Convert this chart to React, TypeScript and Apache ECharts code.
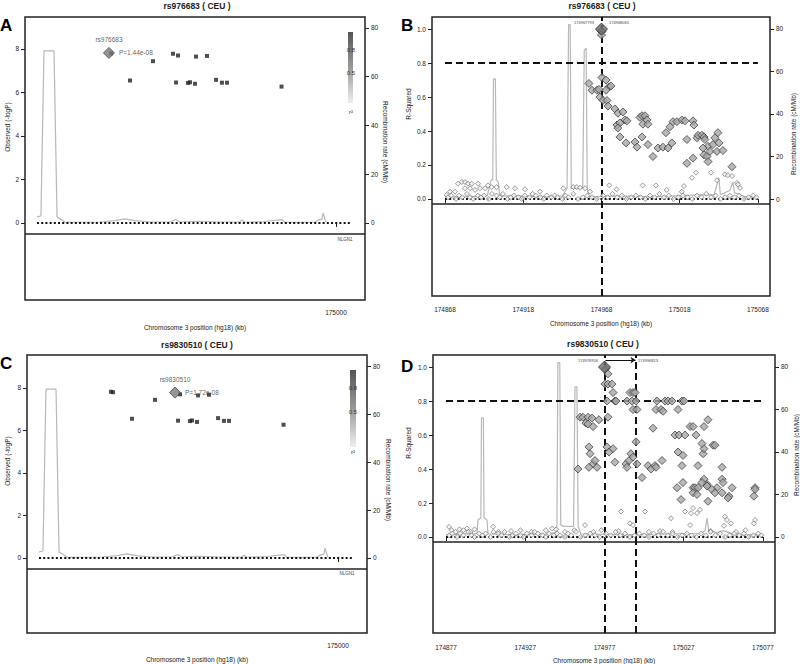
import React, { useEffect, useRef } from "react";
import * as echarts from "echarts";

const FF = "'Liberation Sans', Arial, Helvetica, sans-serif";

// ---------- Panels A / C : association results (position kb, -log10 P) ----------
const assocPos = [174781.0, 174783.0, 174801.3, 174823.5, 174842.8, 174845.7, 174847.6, 174857.2, 174859.2, 174864.0, 174865.0, 174875.6, 174884.3, 174890.0, 174894.9, 174947.5];
const assocLogP = [7.82, 7.8, 6.55, 7.44, 7.78, 6.46, 7.7, 6.44, 6.47, 6.4, 7.65, 7.68, 6.58, 6.45, 6.45, 6.27];
const leadIndexA = 0; // rs976683
const leadIndexC = 4; // rs9830510
const leadNameA = "rs976683";
const leadNameC = "rs9830510";
const leadPA = "P=1.44e-08";
const leadPC = "P=1.72e-08";

// recombination rate (cM/Mb) on the A / C axis
const recAPos = [174711.6, 174714.5, 174715.4, 174718.3, 174728.0, 174730.9, 174735.7, 174738.6, 174772.4, 174786.8, 174796.5, 174806.1, 174820.6, 174839.9, 174845.7, 174849.5, 174864.0, 174883.3, 174907.4, 174909.3, 174912.2, 174931.5, 174947.9, 174950.8, 174979.8, 174982.7, 174986.5, 174987.5, 174989.4, 174990.4];
const recARate = [2.5, 2.8, 3.0, 70.6, 70.6, 2.5, 1.2, 0.3, 0.4, 1.0, 1.7, 1.0, 0.4, 0.5, 1.4, 0.4, 0.7, 0.5, 0.4, 1.2, 0.3, 0.6, 1.4, 0.3, 0.3, 1.2, 1.6, 4.1, 1.4, 0.3];
const snpSpanA = [174711.6, 175013.5];
const ticksAC = [175000];

// ---------- Panel B : LD (position kb, r-squared) ----------
const ticksB = [174868, 174918, 174968, 175018, 175068];
const leadB: number[][] = [[174968.0, 1.0]];
const bHigh: number[][] = [
  [174967.7, 0.99], [174968.3, 0.985], [174968.0, 0.965],
  [174960.0, 0.68], [174961.9, 0.64], [174965.1, 0.64], [174966.4, 0.645], [174968.3, 0.715], [174970.9, 0.7], [174967.0, 0.6], [174969.0, 0.58], [174971.5, 0.58], [174972.8, 0.66], [174974.1, 0.665], [174972.2, 0.547], [174970.9, 0.64],
  [174976.6, 0.53], [174978.5, 0.505], [174981.7, 0.512], [174977.9, 0.435], [174979.8, 0.447], [174983.0, 0.465], [174984.3, 0.46], [174978.5, 0.418], [174979.8, 0.365], [174983.7, 0.33], [174989.4, 0.335], [174990.7, 0.305],
  [174992.6, 0.48], [174993.9, 0.49], [174995.8, 0.49], [174997.1, 0.465], [174994.5, 0.44], [174997.7, 0.44], [174993.9, 0.365], [174997.7, 0.32], [175000.9, 0.25], [175004.1, 0.3], [175007.3, 0.305], [175010.5, 0.3], [175013.0, 0.33],
  [175009.2, 0.39], [175011.8, 0.425], [175013.7, 0.455], [175016.2, 0.455], [175019.4, 0.465], [175021.4, 0.46], [175022.6, 0.35], [175026.5, 0.46], [175027.1, 0.435], [175022.6, 0.21], [175026.5, 0.24],
  [175029.0, 0.36], [175029.7, 0.375], [175032.2, 0.375], [175033.5, 0.365], [175034.1, 0.35], [175036.1, 0.31], [175032.9, 0.3], [175033.5, 0.26], [175035.4, 0.25], [175036.1, 0.22], [175037.3, 0.28], [175039.2, 0.32], [175040.5, 0.36], [175042.4, 0.39], [175043.1, 0.33], [175041.8, 0.28], [175045.6, 0.285], [175051.4, 0.19],
];
const bLow: number[][] = [
  [175025.8, 0.125], [175028.4, 0.155], [175038.0, 0.155], [175041.8, 0.11], [175046.9, 0.145], [175048.8, 0.14], [175051.4, 0.135], [175054.6, 0.095], [175055.2, 0.085], [175056.5, 0.065],
  [174869.1, 0.024], [174871.2, 0.043], [174874.4, 0.043], [174876.3, 0.09], [174878.7, 0.1], [174880.8, 0.1], [174882.7, 0.09], [174885.1, 0.09], [174880.8, 0.063], [174884.0, 0.063], [174887.2, 0.053], [174889.1, 0.09], [174890.4, 0.063], [174893.6, 0.063], [174895.5, 0.08], [174897.8, 0.07], [174901.0, 0.07], [174907.4, 0.07], [174912.7, 0.063], [174919.1, 0.057], [174928.7, 0.043], [174943.6, 0.063], [174950.0, 0.07], [174952.2, 0.07], [174954.3, 0.066], [174957.5, 0.063], [174960.7, 0.043], [174973.0, 0.08], [174977.7, 0.057], [174994.3, 0.08], [175002.8, 0.08], [175009.7, 0.053], [175019.3, 0.043], [175020.7, 0.076],
  [174870, 0.01], [174872, 0.02], [174875, 0.0], [174877, 0.02], [174879, 0.01], [174882, 0.03], [174884, 0.01], [174886, 0.0], [174889, 0.02], [174891, 0.01], [174893, 0.02], [174896, 0.0], [174898, 0.03], [174901, 0.02], [174903, 0.01], [174905, 0.03], [174908, 0.0], [174910, 0.01], [174912, 0.02], [174915, 0.01], [174917, 0.0], [174919, 0.02], [174922, 0.01], [174924, 0.03], [174926, 0.02], [174929, 0.01], [174931, 0.0], [174933, 0.02], [174936, 0.01], [174938, 0.02], [174940, 0.01], [174943, 0.0], [174945, 0.02], [174947, 0.01], [174950, 0.03], [174953, 0.0], [174956, 0.01], [174959, 0.02], [174962, 0.01], [174965, 0.0], [174969, 0.02], [174972, 0.01], [174975, 0.03], [174978, 0.01], [174981, 0.02], [174984, 0.0], [174987, 0.01], [174990, 0.02], [174993, 0.01], [174996, 0.0], [174999, 0.02], [175002, 0.01], [175005, 0.03], [175008, 0.01], [175011, 0.02], [175014, 0.0], [175017, 0.01], [175020, 0.02], [175023, 0.01], [175026, 0.0], [175029, 0.02], [175032, 0.01], [175035, 0.03], [175038, 0.01], [175041, 0.02], [175044, 0.0], [175047, 0.01], [175050, 0.02], [175053, 0.01], [175056, 0.02], [175059, 0.0], [175062, 0.01], [175065, 0.02], [175067, 0.01],
];
const recBPos = [174868, 174880, 174895, 174897.5, 174898.5, 174899.0, 174900.2, 174900.8, 174902, 174903, 174915, 174930, 174943, 174946, 174947.0, 174948.0, 174948.7, 174956, 174957.0, 174958.2, 174958.9, 174960, 174980, 175000, 175030, 175040, 175043, 175044, 175050, 175052, 175053, 175060, 175068];
const recBRate = [1, 1, 1.5, 9, 9, 56.5, 56.5, 9, 8, 1.5, 1.5, 1, 1.5, 5, 82, 82, 5, 5, 70, 71, 5, 1, 1.5, 1, 2, 2, 10, 2, 4, 8, 3, 1, 1];
const snpSpanB = [174868, 175068];
const markB = [174968];
const markLabelsB = ["174967793", "174968065"];

// ---------- Panel D : LD (position kb, r-squared) ----------
const ticksD = [174877, 174927, 174977, 175027, 175077];
const leadD: number[][] = [[174977.0, 1.0]];
const dHigh: number[][] = [
  [174977.8, 0.99], [174979.2, 0.96], [174977.3, 0.9], [174979.2, 0.9], [174981.7, 0.9], [174982.4, 0.85], [174978.6, 0.8], [174983.6, 0.8], [174984.3, 0.8],
  [174993.1, 0.85], [174995.0, 0.85], [174996.3, 0.85], [174991.2, 0.8], [174994.4, 0.8], [174995.0, 0.75], [174997.5, 0.75], [174996.9, 0.8],
  [174961.6, 0.705], [174963.4, 0.705], [174966.6, 0.705], [174969.1, 0.7], [174965.3, 0.67], [174966.6, 0.665], [174969.8, 0.65], [174973.5, 0.69], [174979.2, 0.705],
  [174967.2, 0.53], [174967.9, 0.49], [174969.8, 0.43], [174971.0, 0.45], [174967.2, 0.41], [174972.3, 0.41], [174960.3, 0.4], [174978.6, 0.53], [174979.9, 0.5], [174982.4, 0.52], [174983.6, 0.44],
  [174990.6, 0.43], [174991.2, 0.41], [174992.5, 0.45], [174993.7, 0.49], [174995.0, 0.47], [174996.9, 0.56], [174997.5, 0.43], [175000.7, 0.35],
  [175004.5, 0.42], [175006.4, 0.4], [175008.9, 0.42], [175009.5, 0.41], [175013.3, 0.45], [175009.5, 0.75], [175012.7, 0.75], [175014.0, 0.74],
  [175010.1, 0.8], [175015.2, 0.8], [175017.1, 0.8], [175019.6, 0.8], [175023.4, 0.75], [175025.9, 0.8], [175027.2, 0.8], [175007.6, 0.64],
  [175023.4, 0.5], [175026.5, 0.48], [175025.9, 0.42], [175021.5, 0.6], [175024.0, 0.6], [175027.8, 0.6], [175031.0, 0.65], [175032.9, 0.65], [175034.8, 0.6],
  [175036.0, 0.42], [175039.2, 0.49], [175039.8, 0.52], [175038.5, 0.55], [175039.8, 0.65], [175042.3, 0.69], [175045.5, 0.54], [175046.7, 0.54], [175051.2, 0.41], [175051.2, 0.34],
  [175022.8, 0.29], [175026.5, 0.32], [175032.9, 0.29], [175034.1, 0.29], [175036.0, 0.29], [175039.8, 0.34], [175041.7, 0.31], [175048.0, 0.29], [175057.5, 0.29], [175072.0, 0.29],
  [175025.3, 0.22], [175032.9, 0.26], [175035.4, 0.25], [175038.5, 0.32], [175041.7, 0.3], [175044.8, 0.28], [175046.7, 0.26], [175042.3, 0.21], [175051.2, 0.26], [175055.6, 0.24], [175055.0, 0.23], [175072.0, 0.28], [175071.3, 0.24], [175051.8, 0.32],
];
const dLow: number[][] = [
  [175027.8, 0.15], [175032.9, 0.17], [175035.4, 0.14], [175031.6, 0.14], [175037.3, 0.16], [174987.4, 0.15], [175002.6, 0.15], [175019.0, 0.11], [175031.0, 0.07], [175053.0, 0.12], [175054.3, 0.1], [175052.4, 0.066], [175056.8, 0.08], [175072.0, 0.1], [175071.3, 0.08], [174993.1, 0.08], [174995.0, 0.07], [174964.7, 0.07], [174878.9, 0.06], [174906.7, 0.06], [174890.3, 0.05],
  [174880.5, 0.04], [174883.0, 0.03], [174885.5, 0.045], [174888.0, 0.04], [174892.5, 0.03], [174895.0, 0.045], [174910.0, 0.03], [174918.0, 0.035], [174924.0, 0.04], [174931.0, 0.03], [174940.0, 0.04], [174944.0, 0.05], [174946.5, 0.045], [174952.0, 0.03], [174958.0, 0.04], [174970.0, 0.03], [174975.0, 0.04], [174986.0, 0.035], [175005.0, 0.03], [175012.0, 0.035], [175020.0, 0.03], [175044.0, 0.035], [175060.0, 0.03], [175066.0, 0.04],
  [174879, 0.01], [174881, 0.02], [174884, 0.0], [174886, 0.02], [174888, 0.01], [174891, 0.03], [174893, 0.01], [174895, 0.0], [174898, 0.02], [174900, 0.01], [174902, 0.02], [174905, 0.0], [174907, 0.03], [174910, 0.02], [174912, 0.01], [174914, 0.03], [174917, 0.0], [174919, 0.01], [174921, 0.02], [174924, 0.01], [174926, 0.0], [174928, 0.02], [174931, 0.01], [174933, 0.03], [174935, 0.02], [174938, 0.01], [174940, 0.0], [174942, 0.02], [174945, 0.01], [174947, 0.02], [174949, 0.01], [174952, 0.0], [174954, 0.02], [174956, 0.01], [174959, 0.03], [174962, 0.0], [174965, 0.01], [174968, 0.02], [174971, 0.01], [174974, 0.0], [174978, 0.02], [174981, 0.01], [174984, 0.03], [174987, 0.01], [174990, 0.02], [174993, 0.0], [174996, 0.01], [174999, 0.02], [175002, 0.01], [175005, 0.0], [175008, 0.02], [175011, 0.01], [175014, 0.03], [175017, 0.01], [175020, 0.02], [175023, 0.0], [175026, 0.01], [175029, 0.02], [175032, 0.01], [175035, 0.0], [175038, 0.02], [175041, 0.01], [175044, 0.03], [175047, 0.01], [175050, 0.02], [175053, 0.0], [175056, 0.01], [175059, 0.02], [175062, 0.01], [175065, 0.02], [175068, 0.0], [175071, 0.01], [175074, 0.02], [175076, 0.01],
];
const recDPos = [174877, 174890, 174896.5, 174897.2, 174899.0, 174899.4, 174900.6, 174901.0, 174902.9, 174903.5, 174920, 174940, 174946.5, 174947.0, 174947.6, 174948.8, 174949.4, 174951, 174956.5, 174957.5, 174958.4, 174959.6, 174960.4, 174962, 174990, 175020, 175038, 175040.5, 175041.7, 175042.8, 175048, 175052, 175060, 175077];
const recDRate = [1, 1.5, 1.5, 8, 9, 56, 56, 9, 8, 1.5, 1, 1.5, 2, 5.6, 82, 82, 5.6, 5, 5, 5, 70.6, 70.6, 5, 1.5, 1, 1.5, 1.5, 3, 9, 3, 2, 3, 1, 1];
const snpSpanD = [174877, 175077];
const markD = [174977, 174997];
const markLabelsD = ["174976956", "174996813"];

const zip = (xs: number[], ys: number[]) => xs.map((x, i) => [x, ys[i]]);

function xAxisCfg(gridIndex: number, min: number, max: number, ticks: number[], margin: number, nameGap: number) {
  return {
    type: "value", gridIndex, min, max, position: "bottom",
    axisLine: { show: false }, splitLine: { show: false },
    axisTick: { show: true, length: 4, customValues: ticks, lineStyle: { color: "#222", width: 1 } },
    axisLabel: { show: true, customValues: ticks, formatter: (v: number) => String(v), fontSize: 6.5, color: "#222", margin, fontFamily: FF },
    name: "Chromosome 3 position (hg18) (kb)", nameLocation: "middle", nameGap,
    nameTextStyle: { fontSize: 6.5, color: "#222", fontFamily: FF },
  };
}
function yAxisCfg(gridIndex: number, position: string, min: number, max: number, ticks: number[], dec: number) {
  return {
    type: "value", gridIndex, position, min, max,
    axisLine: { show: false }, splitLine: { show: false },
    axisTick: { show: true, length: 4, customValues: ticks, lineStyle: { color: "#222", width: 1 } },
    axisLabel: { show: true, customValues: ticks, formatter: (v: number) => v.toFixed(dec), fontSize: 6.5, color: "#222", margin: 6, fontFamily: FF },
  };
}
const grid = (left: number, top: number, width: number, height: number) => ({
  left, top, width, height, show: true, borderColor: "#222", borderWidth: 1.5, containLabel: false, outerBoundsMode: "none",
});

const recLine = (xi: number, yi: number, data: number[][]) => ({
  type: "line", xAxisIndex: xi, yAxisIndex: yi, data, symbol: "none", z: 1,
  lineStyle: { color: "#b8b8b8", width: 1.2 }, silent: true,
});
const solidLine = (v: number) => ({ yAxis: v, lineStyle: { type: "solid", width: 1.5, color: "#222" } });
const dashStyle = { type: [7, 4], width: 2, color: "#111" };

function txt(text: string, x: number, y: number, size: number, opts: any = {}) {
  return {
    type: "text", x, y, rotation: opts.rotation || 0, z: 100,
    style: {
      text, fill: opts.fill || "#222", font: `${opts.bold ? "bold " : ""}${size}px ${FF}`,
      textAlign: opts.align || "center", align: opts.align || "center",
      textVerticalAlign: "middle", verticalAlign: "middle",
    },
  };
}
function legendBar(x: number, y: number, w: number, h: number) {
  return {
    type: "rect", shape: { x, y, width: w, height: h }, z: 90,
    style: {
      fill: { type: "linear", x: 0, y: 0, x2: 0, y2: 1, colorStops: [{ offset: 0, color: "#555" }, { offset: 0.5, color: "#999" }, { offset: 1, color: "#eee" }] },
    },
  };
}

function assocSeries(xi: number, yi: number, leadIdx: number, leadName: string, leadP: string) {
  const pts = assocPos.map((p, i) => [p, assocLogP[i]]).filter((_, i) => i !== leadIdx);
  const lead = [[assocPos[leadIdx], assocLogP[leadIdx]]];
  return [
    recLine(xi, yi + 1, zip(recAPos, recARate)),
    {
      type: "line", xAxisIndex: xi, yAxisIndex: yi, data: snpSpanA.map((p) => [p, 0]), symbol: "none", silent: true, z: 2,
      lineStyle: { color: "#111", width: 2, type: [2, 2.2] },
      markLine: { silent: true, symbol: ["none", "none"], label: { show: false }, data: [solidLine(-0.5)] },
    },
    { type: "scatter", xAxisIndex: xi, yAxisIndex: yi, data: pts, symbol: "rect", symbolSize: 4, itemStyle: { color: "#222" }, z: 5 },
    {
      type: "scatter", xAxisIndex: xi, yAxisIndex: yi, data: lead, symbol: "diamond", symbolSize: 11, z: 6,
      itemStyle: { color: "#7a7a7a", borderColor: "#444", borderWidth: 1 },
      label: { show: true, position: "right", distance: 4, formatter: leadP, fontSize: 6.5, color: "#333", fontFamily: FF },
    },
    {
      type: "scatter", xAxisIndex: xi, yAxisIndex: yi, data: lead, symbol: "circle", symbolSize: 1, z: 6,
      itemStyle: { color: "rgba(0,0,0,0)" },
      label: { show: true, position: "top", distance: 9, formatter: leadName, fontSize: 6.5, color: "#333", fontFamily: FF },
    },
  ];
}

function ldSeries(xi: number, yi: number, rec: number[][], span: number[], marks: number[], low: number[][], high: number[][], lead: number[][], arrow: boolean) {
  const ml: any[] = [
    solidLine(-0.03),
    [{ coord: [span[0], 0.8], lineStyle: dashStyle }, { coord: [span[1], 0.8], lineStyle: dashStyle }],
    ...marks.map((m) => ({ xAxis: m, lineStyle: dashStyle })),
  ];
  const s: any[] = [
    recLine(xi, yi + 1, rec),
    {
      type: "line", xAxisIndex: xi, yAxisIndex: yi, data: span.map((p) => [p, 0]), symbol: "none", silent: true, z: 2,
      lineStyle: { color: "#111", width: 2, type: [2, 2.2] },
      markLine: { silent: true, symbol: ["none", "none"], label: { show: false }, data: ml, z: 3 },
    },
    { type: "scatter", xAxisIndex: xi, yAxisIndex: yi, data: low, symbol: "diamond", symbolSize: 5, z: 4, itemStyle: { color: "#f2f2f2", borderColor: "#666", borderWidth: 0.8 } },
    { type: "scatter", xAxisIndex: xi, yAxisIndex: yi, data: high, symbol: "diamond", symbolSize: 8, z: 5, itemStyle: { color: "#a6a6a6", borderColor: "#333", borderWidth: 0.9 } },
    { type: "scatter", xAxisIndex: xi, yAxisIndex: yi, data: lead, symbol: "diamond", symbolSize: 12, z: 6, itemStyle: { color: "#6e6e6e", borderColor: "#222", borderWidth: 1 } },
  ];
  if (arrow) {
    s.push({
      type: "line", xAxisIndex: xi, yAxisIndex: yi, data: [], silent: true,
      markLine: {
        silent: true, symbol: ["none", "arrow"], symbolSize: 5, label: { show: false },
        data: [[{ coord: [marks[0] + 0.6, 1.041] }, { coord: [marks[1] - 0.4, 1.041] }]],
        lineStyle: { type: "solid", width: 1, color: "#111" },
      },
    });
  }
  return s;
}

export default function App() {
  const ref = useRef<HTMLDivElement>(null);
  useEffect(() => {
    if (!ref.current) return;
    const chart = echarts.init(ref.current, null, { renderer: "svg" });
    const option: any = {
      animation: false,
      backgroundColor: "#fff",
      textStyle: { fontFamily: FF },
      grid: [grid(25, 17, 340, 283), grid(432, 17, 338, 279), grid(27, 355, 340, 278), grid(433, 355, 342, 278)],
      xAxis: [
        xAxisCfg(0, 174700, 175028, ticksAC, 9, 23.5),
        xAxisCfg(1, 174859.7, 175075.7, ticksB, 10, 23.5),
        xAxisCfg(2, 174700, 175028, ticksAC, 8.5, 22.5),
        xAxisCfg(3, 174868.8, 175084.6, ticksD, 10.5, 23.5),
      ],
      yAxis: [
        yAxisCfg(0, "left", -3.54, 9.47, [0, 2, 4, 6, 8], 0),
        yAxisCfg(0, "right", -31.6, 84.5, [0, 20, 40, 60, 80], 0),
        yAxisCfg(1, "left", -0.571, 1.071, [0, 0.2, 0.4, 0.6, 0.8, 1.0], 1),
        yAxisCfg(1, "right", -45.6, 85.6, [0, 20, 40, 60, 80], 0),
        yAxisCfg(2, "left", -3.53, 9.55, [0, 2, 4, 6, 8], 0),
        yAxisCfg(2, "right", -31.4, 84.9, [0, 20, 40, 60, 80], 0),
        yAxisCfg(3, "left", -0.565, 1.071, [0, 0.2, 0.4, 0.6, 0.8, 1.0], 1),
        yAxisCfg(3, "right", -45.2, 85.6, [0, 20, 40, 60, 80], 0),
      ],
      series: [
        ...assocSeries(0, 0, leadIndexA, leadNameA, leadPA),
        ...ldSeries(1, 2, zip(recBPos, recBRate), snpSpanB, markB, bLow, bHigh, leadB, false),
        ...assocSeries(2, 4, leadIndexC, leadNameC, leadPC),
        ...ldSeries(3, 6, zip(recDPos, recDRate), snpSpanD, markD, dLow, dHigh, leadD, true),
      ],
      graphic: [
        txt("A", 0, 25, 17, { bold: true, align: "left", fill: "#000" }),
        txt("B", 401, 25, 17, { bold: true, align: "left", fill: "#000" }),
        txt("C", 0, 363, 17, { bold: true, align: "left", fill: "#000" }),
        txt("D", 401, 366, 17, { bold: true, align: "left", fill: "#000" }),
        txt("rs976683 ( CEU )", 197, 6, 8.5, { bold: true }),
        txt("rs976683 ( CEU )", 602, 6, 8.5, { bold: true }),
        txt("rs9830510 ( CEU )", 197, 345, 8.5, { bold: true }),
        txt("rs9830510 ( CEU )", 603, 344, 8.5, { bold: true }),
        txt("Observed (-logP)", 7, 127, 6.5, { rotation: Math.PI / 2 }),
        txt("Observed (-logP)", 7, 461, 6.5, { rotation: Math.PI / 2 }),
        txt("R-Squared", 408, 104, 6.5, { rotation: Math.PI / 2 }),
        txt("R-Squared", 408, 443, 6.5, { rotation: Math.PI / 2 }),
        txt("Recombination rate (cM/Mb)", 385, 142, 6.5, { rotation: -Math.PI / 2 }),
        txt("Recombination rate (cM/Mb)", 388, 480, 6.5, { rotation: -Math.PI / 2 }),
        txt("Recombination rate (cM/Mb)", 793, 134, 6.5, { rotation: Math.PI / 2 }),
        txt("Recombination rate (cM/Mb)", 796, 455, 6.5, { rotation: Math.PI / 2 }),
        legendBar(348, 32, 5, 71),
        txt("0.8", 351, 50, 6, { fill: "#333" }),
        txt("0.5", 351, 73, 6, { fill: "#333" }),
        txt("r²", 351, 112, 6, { fill: "#333" }),
        legendBar(350, 370, 6, 77),
        txt("0.8", 353, 388, 6, { fill: "#333" }),
        txt("0.5", 353, 412, 6, { fill: "#333" }),
        txt("r²", 353, 452, 6, { fill: "#333" }),
        txt("NLGN1", 345, 239, 4.5, { fill: "#444" }),
        txt("NLGN1", 347, 573, 4.5, { fill: "#444" }),
        txt(markLabelsB[0], 584, 22, 4, { fill: "#444" }),
        txt(markLabelsB[1], 619, 22, 4, { fill: "#444" }),
        txt(markLabelsD[0], 588, 360, 4, { fill: "#444" }),
        txt(markLabelsD[1], 648, 360, 4, { fill: "#444" }),
      ],
    };
    chart.setOption(option);
    return () => chart.dispose();
  }, []);
  return <div ref={ref} style={{ width: 800, height: 664, position: "absolute", left: 0, top: 0 }} />;
}
